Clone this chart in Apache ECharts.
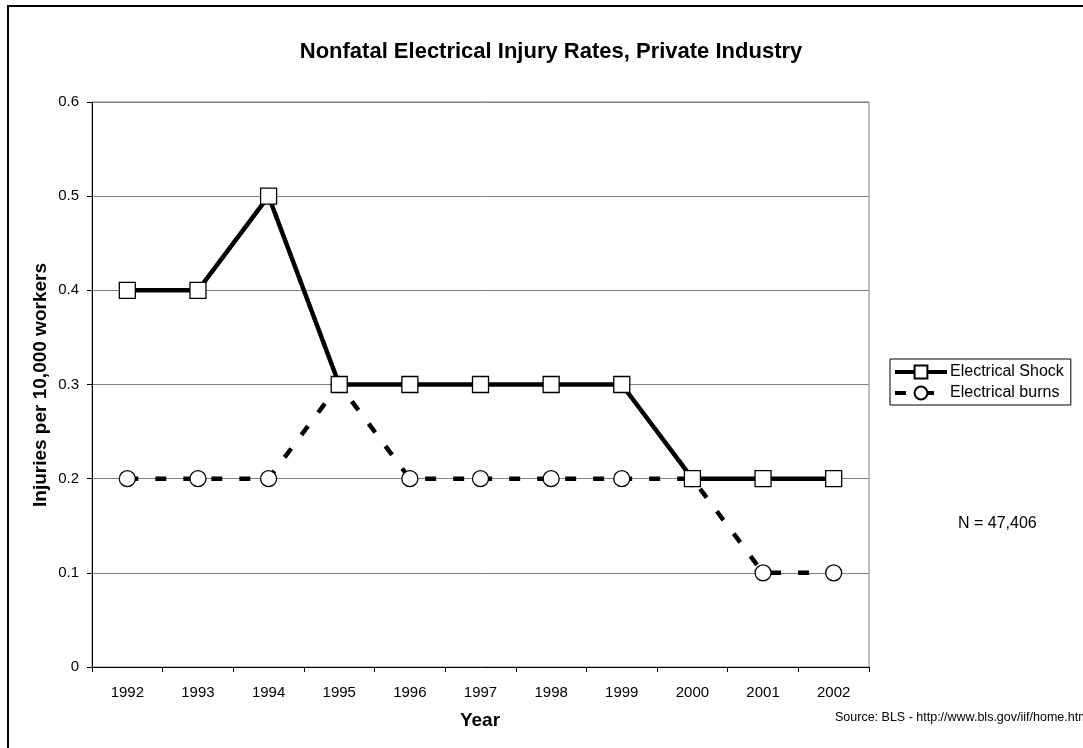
<!DOCTYPE html>
<html><head><meta charset="utf-8">
<script src="https://cdn.jsdelivr.net/npm/echarts@6/dist/echarts.min.js"></script>
<style>html,body{margin:0;padding:0;background:#fff}#c{width:1083px;height:748px}</style>
</head><body><div id="c"></div>
<script>
var years = ['1992','1993','1994','1995','1996','1997','1998','1999','2000','2001','2002'];
var shock = [0.4,0.4,0.5,0.3,0.3,0.3,0.3,0.3,0.2,0.2,0.2];
var burns = [0.2,0.2,0.2,0.3,0.2,0.2,0.2,0.2,0.2,0.1,0.1];
var yTicks = [0,0.1,0.2,0.3,0.4,0.5,0.6];
var F = 'Liberation Sans, Arial, sans-serif';
var chart = echarts.init(document.getElementById('c'), null, {renderer:'canvas'});
chart.setOption({
  animation:false,
  backgroundColor:'#fff',
  title:{text:'Nonfatal Electrical Injury Rates, Private Industry', left:546, textAlign:'center', top:36,
    textStyle:{fontFamily:F, fontSize:22, fontWeight:'bold', color:'#000'}},
  grid:{left:92, top:102, width:777, height:565, containLabel:false, show:true, borderColor:'#808080', borderWidth:1, backgroundColor:'transparent'},
  legend:{orient:'vertical', left:890, top:359, itemWidth:52, itemHeight:16, itemGap:5,
    borderColor:'#000', borderWidth:1, padding:[5,7,4,3],
    lineStyle:{width:4},
    textStyle:{fontFamily:F, fontSize:16, color:'#000', padding:[0,0,0,-2]},
    data:['Electrical Shock','Electrical burns']},
  xAxis:{type:'category', data:years, boundaryGap:true,
    axisLine:{lineStyle:{color:'#000', width:1}},
    axisTick:{show:true, inside:false, length:5, lineStyle:{color:'#000'}},
    axisLabel:{fontFamily:F, fontSize:15, color:'#000', margin:18},
    splitLine:{show:false}},
  yAxis:{type:'value', min:0, max:0.6, interval:0.1,
    axisLine:{show:true, lineStyle:{color:'#000', width:1}},
    axisTick:{show:true, length:5, lineStyle:{color:'#000'}},
    axisLabel:{fontFamily:F, fontSize:15, color:'#000', margin:13,
      formatter:function(v){ var t=yTicks.filter(function(x){return Math.abs(x-v)<1e-9;}); return t.length? String(t[0]) : ''; }},
    splitLine:{show:true, lineStyle:{color:'#808080', width:1}}},
  graphic:[
    {type:'rect', shape:{x:8, y:6, width:1200, height:900}, style:{fill:'none', stroke:'#000', lineWidth:2}, silent:true},
    {type:'text', x:41, y:385, rotation:Math.PI/2, style:{text:'Injuries per 10,000 workers', fontFamily:F, fontSize:19, fontWeight:'bold', fill:'#000', textAlign:'center', textVerticalAlign:'middle'}},
    {type:'text', x:480, y:721, style:{text:'Year', fontFamily:F, fontSize:19, fontWeight:'bold', fill:'#000', textAlign:'center', textVerticalAlign:'middle'}},
    {type:'text', x:958, y:524, style:{text:'N = 47,406', fontFamily:F, fontSize:16, fill:'#000', textAlign:'left', textVerticalAlign:'middle'}},
    {type:'text', x:835, y:718, style:{text:'Source: BLS - http://www.bls.gov/iif/home.htm', fontFamily:F, fontSize:12.5, fill:'#000', textAlign:'left', textVerticalAlign:'middle'}}
  ],
  series:[
    {name:'Electrical burns', type:'line', data:burns, z:2,
      symbol:'circle', symbolSize:16, showAllSymbol:true,
      lineStyle:{color:'#000', width:4.5, type:[11,17]},
      itemStyle:{color:'#fff', borderColor:'#000', borderWidth:1.3}},
    {name:'Electrical Shock', type:'line', data:shock, z:3,
      symbol:'rect', symbolSize:16, showAllSymbol:true,
      lineStyle:{color:'#000', width:4.5},
      itemStyle:{color:'#fff', borderColor:'#000', borderWidth:1.3}}
  ]
});
</script></body></html>
